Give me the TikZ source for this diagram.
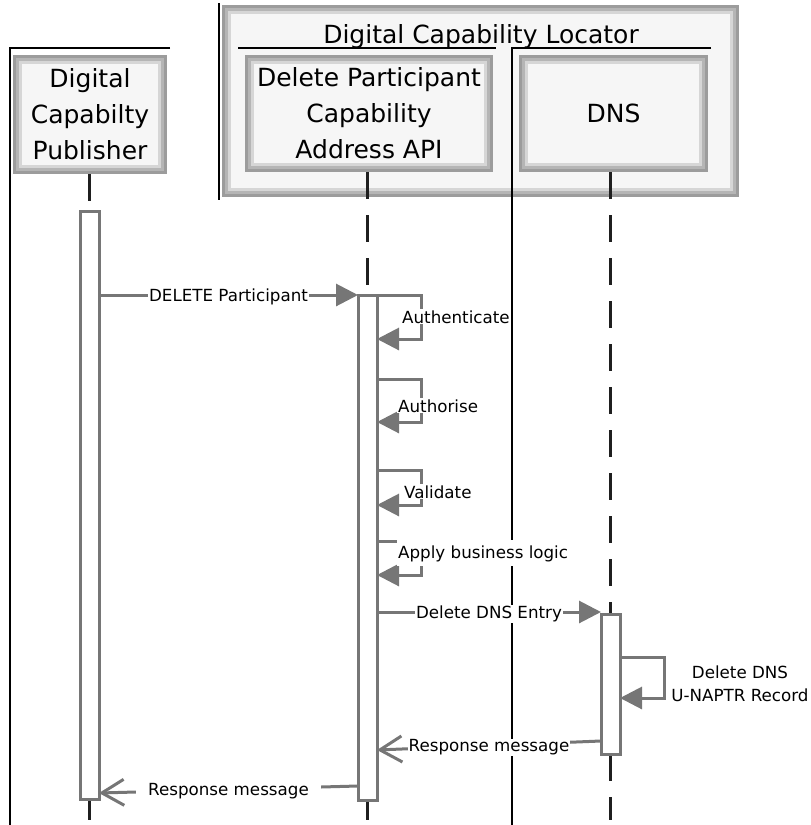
\documentclass[tikz,border=0pt]{standalone}
\usepackage{fontspec}
\setmainfont{DejaVu Sans}
\usetikzlibrary{arrows.meta}
\definecolor{lg}{RGB}{118,118,118}
\newcommand\dcbBox{\fontsize{25}{36}\selectfont}
\newcommand\dcbLbl{\fontsize{16.7}{23}\selectfont}
\begin{document}
\begin{tikzpicture}[x=1pt,y=-1pt,
  shadebox/.style={inner sep=0pt, outer sep=0pt, align=center, font=\dcbBox, fill=white,
    path picture={
      \fill[gray!78] (path picture bounding box.south west) rectangle (path picture bounding box.north east);
      \fill[gray!58] ([shift={(3pt,3pt)}]path picture bounding box.south west) rectangle ([shift={(-3pt,-3pt)}]path picture bounding box.north east);
      \fill[gray!32] ([shift={(6pt,6pt)}]path picture bounding box.south west) rectangle ([shift={(-6pt,-6pt)}]path picture bounding box.north east);
      \fill[gray!7] ([shift={(9pt,9pt)}]path picture bounding box.south west) rectangle ([shift={(-9pt,-9pt)}]path picture bounding box.north east);
    }},
  lane/.style={draw=black, line width=1.3pt},
  lifeline/.style={draw=black!88, line width=2.6pt, dash pattern=on 27pt off 16pt},
  bar/.style={draw=lg, line width=3pt, fill=white, minimum width=19pt, inner sep=0pt, outer sep=0pt},
  msg/.style={draw=lg, line width=3pt},
  sync/.style={msg, -{Triangle[length=22pt,width=22pt]}},
  reply/.style={msg, -{Straight Barb[length=22pt,width=26pt]}},
  lbl/.style={fill=white, inner sep=1pt, font=\dcbLbl},
  mlbl/.style={lbl, yshift=-2pt}
]
\useasboundingbox (0,0) rectangle (811,825);

% outer frame of the locator
\node[shadebox, minimum width=517pt, minimum height=192pt] (locator) at (480.5,101) {};
\node[font=\dcbBox, anchor=base] (title) at (481,43) {Digital Capability Locator};

% swimlane lines
\coordinate (l0t) at (219,3); \coordinate (l0b) at (219,200);
\draw[lane] (l0t) -- (l0b);
\coordinate (pl1) at (170,48); \coordinate (pl0) at (10,48); \coordinate (pl2) at (10,825);
\draw[lane] (pl1) -- (pl0) -- (pl2);
\coordinate (al0) at (238,48); \coordinate (al1) at (496,48);
\draw[lane] (al0) -- (al1);
\coordinate (dl1) at (711,48); \coordinate (dl0) at (512,48); \coordinate (dl2) at (512,825);
\draw[lane] (dl1) -- (dl0) -- (dl2);

% participant boxes
\node[shadebox, minimum width=154pt, minimum height=119pt] (pub) at (90,114.5) {Digital\\Capabilty\\Publisher};
\node[shadebox, minimum width=248pt, minimum height=117pt] (api) at (369,113.5) {Delete Participant\\Capability\\Address API};
\node[shadebox, minimum width=189pt, minimum height=117pt] (dns) at (613.5,113.5) {DNS};

% activation bars (positions)
\coordinate (yend) at (0,820);
\path (89.5,505) coordinate (pubc) (367.5,547.5) coordinate (apic) (610.5,684) coordinate (dnsc);
\node[bar, minimum height=588pt] (pubbar) at (pubc) {};
\node[bar, minimum height=505pt] (apibar) at (apic) {};
\node[bar, minimum height=140pt] (dnsbar) at (dnsc) {};

% lifelines
\draw[lifeline] (pubbar.north |- pub.south) -- (pubbar.north);
\draw[lifeline] (pubbar.south) -- (pubbar.south |- yend);
\draw[lifeline] (apibar.north |- api.south) -- (apibar.north);
\draw[lifeline] (apibar.south) -- (apibar.south |- yend);
\draw[lifeline] (dnsbar.north |- dns.south) -- (dnsbar.north);
\draw[lifeline] (dnsbar.south) -- (dnsbar.south |- yend);
% redraw bars on top of lifelines
\node[bar, minimum height=588pt] at (pubc) {};
\node[bar, minimum height=505pt] at (apic) {};
\node[bar, minimum height=140pt] at (dnsc) {};

% message levels
\coordinate (y1) at (0,295);
\coordinate (ya1) at (0,295); \coordinate (yb1) at (0,339);
\coordinate (ya2) at (0,379); \coordinate (yb2) at (0,422);
\coordinate (ya3) at (0,470); \coordinate (yb3) at (0,505);
\coordinate (ya4) at (0,541); \coordinate (yb4) at (0,575);
\coordinate (y5) at (0,612);
\coordinate (yd1) at (0,657); \coordinate (yd2) at (0,698);
\coordinate (yr1) at (0,741); \coordinate (yr2) at (0,750);
\coordinate (yr3) at (0,786); \coordinate (yr4) at (0,793);

% DELETE Participant
\draw[sync] (pubbar.east |- y1) -- node[mlbl] (m1) {DELETE Participant} (apibar.west |- y1);

% self messages on the API
\draw[sync] (apibar.east |- ya1) -- ++(44,0) |- (apibar.east |- yb1);
\node[lbl, anchor=base west] (lauth) at (401,323) {Authenticate};
\draw[sync] (apibar.east |- ya2) -- ++(44,0) |- (apibar.east |- yb2);
\node[lbl, anchor=base west] (lautz) at (397,412) {Authorise};
\draw[sync] (apibar.east |- ya3) -- ++(44,0) |- (apibar.east |- yb3);
\node[lbl, anchor=base west] (lval) at (403,498) {Validate};
\draw[sync] (apibar.east |- ya4) -- ++(44,0) |- (apibar.east |- yb4);
\node[lbl, anchor=base west, inner ysep=5pt] (lbiz) at (397,558) {Apply business logic};

% Delete DNS Entry
\draw[sync] (apibar.east |- y5) -- node[mlbl] (m5) {Delete DNS Entry} (dnsbar.west |- y5);

% self message on DNS
\draw[sync] (dnsbar.east |- yd1) -- ++(44,0) |- (dnsbar.east |- yd2);
\node[font=\dcbLbl, align=center] (ldns) at (740,684) {Delete DNS\\U-NAPTR Record};

% responses
\draw[reply] (dnsbar.west |- yr1) -- node[mlbl] (r1) {Response message} (apibar.east |- yr2);
\draw[reply] (apibar.west |- yr3) -- node[mlbl, inner xsep=12pt] (r2) {Response message} (pubbar.east |- yr4);
\end{tikzpicture}
\end{document}
